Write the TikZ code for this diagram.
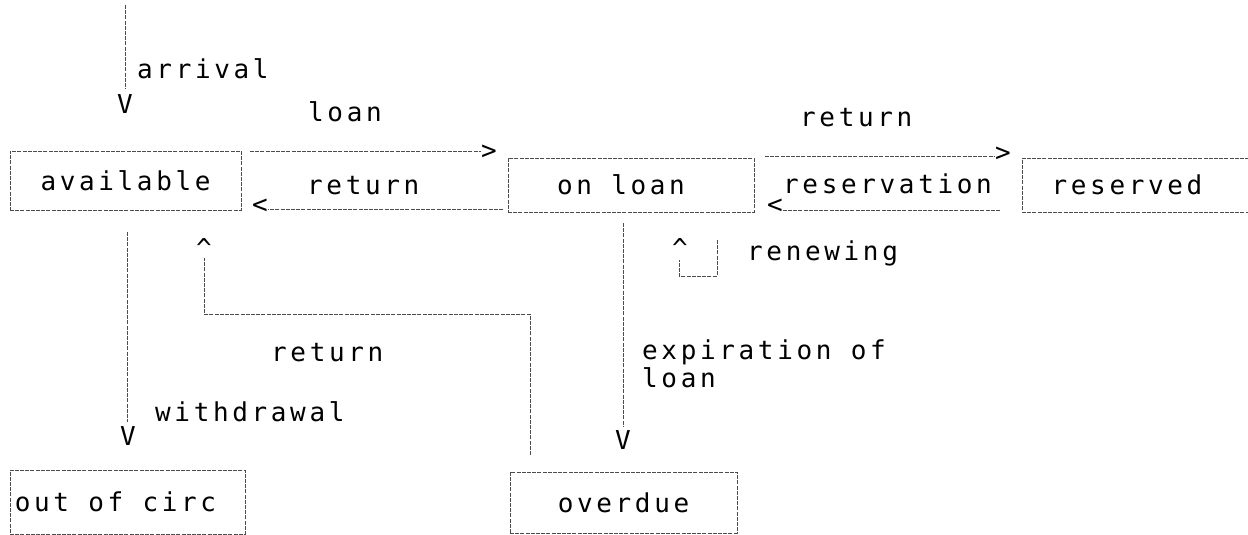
\documentclass[tikz,border=0pt]{standalone}
\usepackage{fontspec}
\newfontfamily\dm{DejaVu Sans Mono}[LetterSpace=14]
\newcommand\dmfont{\dm\fontsize{26}{28}\selectfont}
\begin{document}
\begin{tikzpicture}[x=1pt,y=-1pt,
  conn/.style={draw=black!70, line width=0.9pt, dash pattern=on 4pt off 1.2pt},
  stbox/.style={draw=black!70, line width=0.9pt, dash pattern=on 4pt off 1.2pt, rectangle, inner sep=0pt, font=\dmfont},
  lbl/.style={inner sep=0pt, anchor=west, font=\dmfont, text=black},
  tip/.style={inner sep=0pt, font=\dmfont, text=black}]
\clip (0,0) rectangle (1248,535);
\fill[white] (0,0) rectangle (1248,535);
% boxes
\node[stbox, minimum width=231pt, minimum height=59pt] (avail) at (125.5,180.5) {\raisebox{-3pt}{available}};
\node[stbox, minimum width=246pt, minimum height=54pt] (onloan) at (631,185) {\raisebox{-2pt}{on loan\hspace{20pt}}};
\node[stbox, minimum width=240pt, minimum height=54pt] (reserved) at (1142,185) {\raisebox{-1pt}{reserved\hspace{30pt}}};
\node[stbox, minimum width=235pt, minimum height=64pt] (outcirc) at (127.5,502) {\raisebox{-8pt}{out of circ\hspace{24pt}}};
\node[stbox, minimum width=227pt, minimum height=61pt] (overdue) at (623.5,502.5) {\raisebox{-5pt}{overdue}};
% arrival
\coordinate (a0) at (125,5);
\node[tip] (t1) at (125,104) {V};
\draw[conn, shorten >=5pt] (a0) -- (t1.north);
% loan
\coordinate (l0) at (250,151);
\node[tip] (t2) at (489,152) {>};
\draw[conn] (l0) -- (l0 -| t2.west);
% return (on loan -> available)
\node[tip] (t3) at (260,206) {<};
\coordinate (l1) at (503,209);
\draw[conn] (l1) -- (l1 -| t3.east);
% return (reservation)
\coordinate (r0) at (765,156);
\node[tip] (t4) at (1003,154) {>};
\draw[conn] (r0) -- (r0 -| t4.west);
\node[tip] (t5) at (775,206) {<};
\coordinate (r1) at (1000,210);
\draw[conn] (r1) -- (r1 -| t5.east);
% withdrawal
\coordinate (w0) at (127,232);
\node[tip] (t6) at (128,436) {V};
\draw[conn, shorten >=4pt] (w0) -- (w0 |- t6.north);
% expiration
\coordinate (e0) at (623,223);
\node[tip] (t7) at (623,440) {V};
\draw[conn, shorten >=4pt] (e0) -- (e0 |- t7.north);
% return overdue -> available
\node[tip, anchor=north] (t8) at (204,238) {\textasciicircum};
\coordinate (p0) at (530,455);
\coordinate (p1) at (530,314);
\coordinate (p2) at (204,314);
\coordinate (p3) at (204,258);
\draw[conn] (p0) -- (p1) -- (p2) -- (p3);
% renewing loop
\node[tip, anchor=north] (t9) at (680,238) {\textasciicircum};
\coordinate (q0) at (717,240);
\coordinate (q1) at (717,276);
\coordinate (q2) at (679,276);
\coordinate (q3) at (679,260);
\draw[conn] (q0) -- (q1) -- (q2) -- (q3);
% labels
\node[lbl] (Larr) at (137,69) {arrival};
\node[lbl] (Lloan) at (308,112) {loan};
\node[lbl] (Lret1) at (307,186) {return};
\node[lbl] (Lret2) at (800,118) {return};
\node[lbl] (Lres) at (783,184) {reservation};
\node[lbl] (Lren) at (747,253) {renewing};
\node[lbl] (Lret3) at (271,353) {return};
\node[lbl] (Lwd) at (155,412) {withdrawal};
\node[lbl, align=left] (Lexp) at (642,364) {expiration of\\loan};
\end{tikzpicture}
\end{document}
